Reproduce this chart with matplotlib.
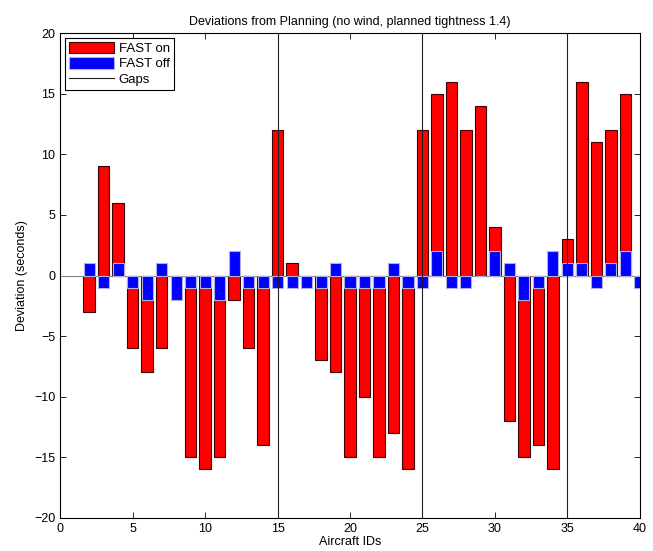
import matplotlib
matplotlib.use("Agg")
import matplotlib.pyplot as plt
from matplotlib.patches import Patch
from matplotlib.lines import Line2D

plt.rcParams['font.family'] = ['Liberation Sans', 'DejaVu Sans']

aircraft_ids = list(range(2, 41))
fast_on = [-3, 9, 6, -6, -8, -6, 0, -15, -16, -15, -2, -6, -14, 12,
           1, 0, -7, -8, -15, -10, -15, -13, -16, 12, 15, 16, 12, 14,
           4, -12, -15, -14, -16, 3, 16, 11, 12, 15, 0]
fast_off = [1, -1, 1, -1, -2, 1, -2, -1, -1, -2, 2, -1, -1, -1,
            -1, -1, -1, 1, -1, -1, -1, 1, -1, -1, 2, -1, -1, 0,
            2, 1, -2, -1, 2, 1, 1, -1, 1, 2, -1]
gap_positions = [15, 25, 35]

fig = plt.figure(figsize=(6.53, 5.51), dpi=100)
ax = fig.add_axes([0.092, 0.060, 0.888, 0.880])

ax.bar(aircraft_ids, fast_on, width=0.8, color='#ff0000',
       edgecolor='#400000', linewidth=0.8, zorder=2)
ax.axhline(0, color='#808080', linewidth=0.8, zorder=2.5)
ax.bar(aircraft_ids, fast_off, width=0.76, color='#0000ff',
       edgecolor='#b0b0e0', linewidth=0.8, zorder=3)
for g in gap_positions:
    ax.axvline(g, color='#202020', linewidth=0.8, zorder=4)

ax.set_xlim(0, 40)
ax.set_ylim(-20, 20)
ax.set_xticks(range(0, 41, 5))
ax.set_yticks(range(-20, 21, 5))
ax.tick_params(direction='in', top=True, right=True, labelsize=9,
               length=4, width=0.6)
for s in ax.spines.values():
    s.set_linewidth(0.8)

ax.set_title('Deviations from Planning (no wind, planned tightness 1.4)',
             fontsize=9, pad=6)
ax.set_xlabel('Aircraft IDs', fontsize=9, labelpad=1)
ax.set_ylabel('Deviation (seconds)', fontsize=9, labelpad=4)

handles = [Patch(facecolor='#ff0000', edgecolor='#400000', linewidth=0.8),
           Patch(facecolor='#0000ff', edgecolor='#b0b0e0', linewidth=0.8),
           Line2D([], [], color='#202020', linewidth=0.8)]
leg = ax.legend(handles, ['FAST on', 'FAST off', 'Gaps'], loc='upper left',
                fontsize=9.5, fancybox=False, framealpha=1,
                edgecolor='black', borderaxespad=0.35, handlelength=3.4,
                handleheight=1.0, labelspacing=0.15, borderpad=0.3,
                handletextpad=0.4)
leg.get_frame().set_linewidth(0.8)
leg.set_zorder(5)

fig.savefig('out.png', dpi=100)
